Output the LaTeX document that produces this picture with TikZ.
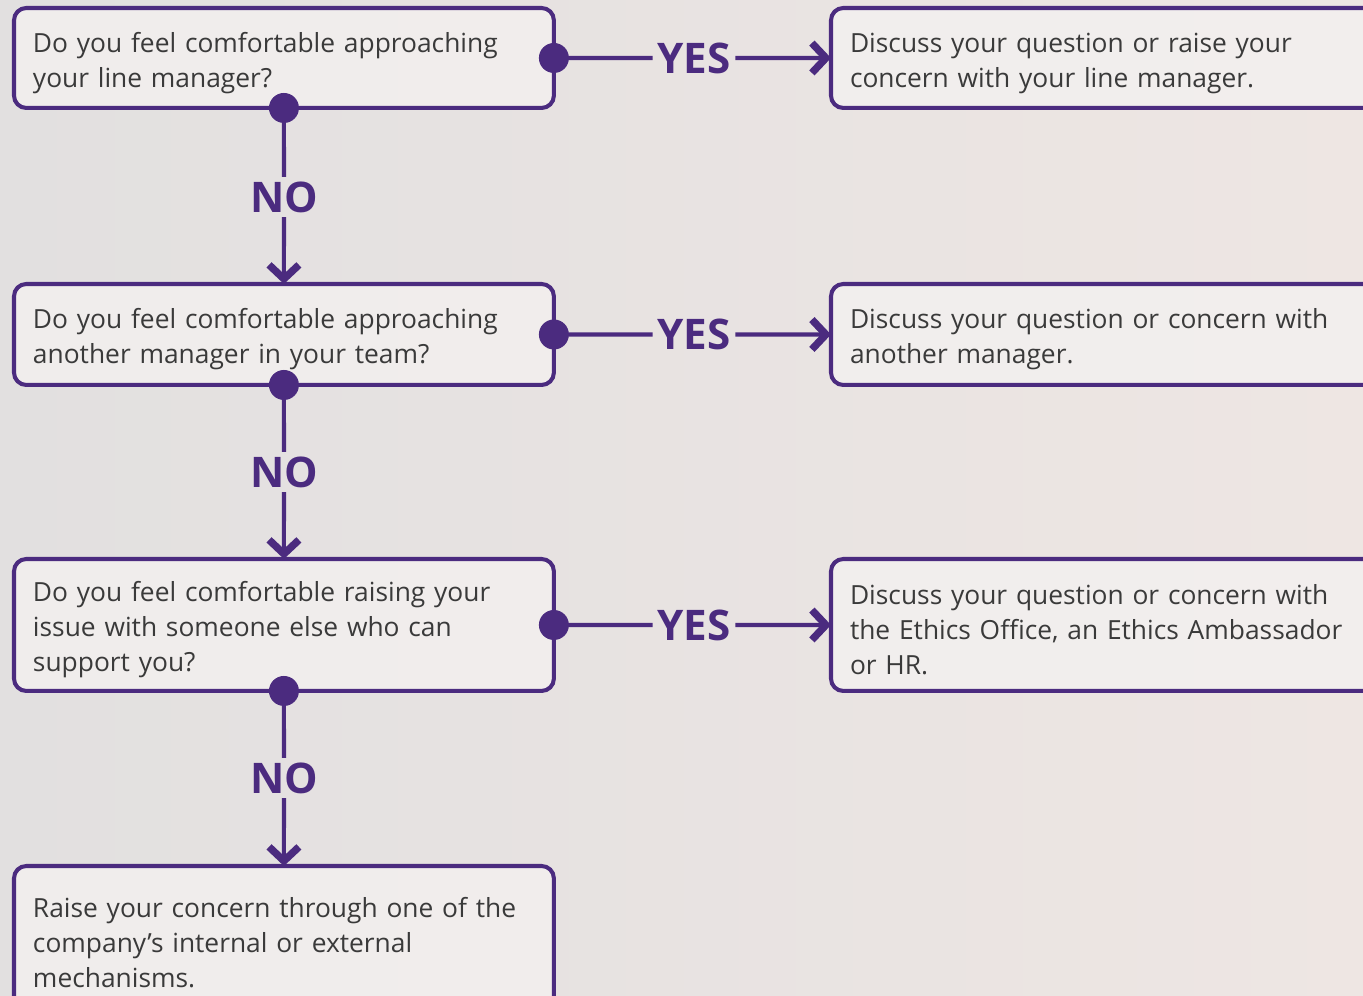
\documentclass[tikz,border=0pt]{standalone}
\usepackage{fontspec}
\setmainfont{Open Sans}
\usetikzlibrary{arrows.meta, positioning}
\definecolor{ethicpurple}{HTML}{4B2B7F}
\definecolor{bodygrey}{HTML}{3A3A3A}
\definecolor{bgleft}{HTML}{E2E0E0}
\definecolor{bgright}{HTML}{EEE6E3}
\definecolor{boxfill}{HTML}{F3F0EF}

\begin{document}
\begin{tikzpicture}[x=0.02cm, y=-0.02cm,
  stepbox/.style={draw=ethicpurple, line width=2.3pt, rounded corners=7pt,
    fill=boxfill, fill opacity=0.85, text opacity=1, anchor=north west,
    outer sep=0pt, text width=10.04cm, inner xsep=0.38cm, inner ysep=2pt,
    align=left, text=bodygrey, text height=17pt,
    font=\fontsize{15}{19.8}\selectfont},
  wide/.style={minimum width=10.8cm},
  answer/.style={text width=10.12cm, minimum width=10.88cm},
  link/.style={draw=ethicpurple, line width=2.3pt},
  tolink/.style={link, -{Straight Barb[length=8pt, width=17pt, line width=4.2pt]}},
  choice/.style={text=ethicpurple, inner sep=2.5pt,
    font=\fontsize{24}{24}\bfseries\selectfont},
  knob/.style={fill=ethicpurple}]

\useasboundingbox (0,0) rectangle (1363,996);
\clip (0,0) rectangle (1363,996);
\shade[left color=bgleft, right color=bgright] (0,0) rectangle (1363,996);

% questions on the left
\node[stepbox, wide, minimum height=2cm] (q1) at (14,8)
  {Do you feel comfortable approaching\\your line manager?};
\node[stepbox, wide, minimum height=2.02cm] (q2) at (14,284)
  {Do you feel comfortable approaching\\another manager in your team?};
\node[stepbox, wide, minimum height=2.64cm] (q3) at (14,559)
  {Do you feel comfortable raising your\\issue with someone else who can\\support you?};
\node[stepbox, wide, minimum height=2.88cm] (q4) at (14,866)
  {Raise your concern through one of the\\company's internal or external\\mechanisms.};

% answers on the right
\node[stepbox, answer, minimum height=2cm] (a1) at (831,8)
  {Discuss your question or raise your\\concern with your line manager.};
\node[stepbox, answer, minimum height=2.02cm] (a2) at (831,284)
  {Discuss your question or concern with\\another manager.};
\node[stepbox, answer, minimum height=2.64cm] (a3) at (831,559)
  {Discuss your question or concern with\\the Ethics Office, an Ethics Ambassador\\or HR.};

% yes / no labels
\node[choice] (yes1) at (694,58) {YES};
\node[choice] (yes2) at (694,334.5) {YES};
\node[choice] (yes3) at (694,625) {YES};
\node[choice] (no1) at (284,197) {NO};
\node[choice] (no2) at (284,472) {NO};
\node[choice] (no3) at (284,778) {NO};

% connectors
\draw[link] (q1.east) -- (yes1.west);
\draw[tolink] (yes1.east) -- (a1.west);
\draw[link] (q2.east) -- (yes2.west);
\draw[tolink] (yes2.east) -- (a2.west);
\draw[link] (q3.east) -- (yes3.west);
\draw[tolink] (yes3.east) -- (a3.west);

\draw[link] (q1.south) -- (no1.north);
\draw[tolink] (no1.south) -- (q2.north);
\draw[link] (q2.south) -- (no2.north);
\draw[tolink] (no2.south) -- (q3.north);
\draw[link] (q3.south) -- (no3.north);
\draw[tolink] (no3.south) -- (q4.north);

% dots
\foreach \q in {q1,q2,q3} {
  \fill[knob] (\q.east) circle[radius=0.3cm];
  \fill[knob] (\q.south) circle[radius=0.3cm];
}
\end{tikzpicture}
\end{document}
